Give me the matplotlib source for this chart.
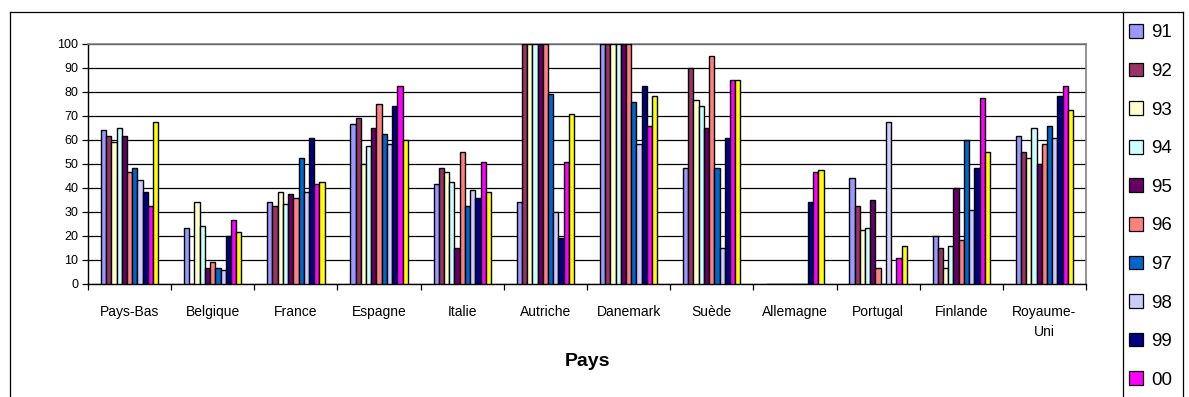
import numpy as np
import matplotlib.pyplot as plt
from matplotlib.patches import Patch
from matplotlib.lines import Line2D

plt.rcParams['font.family'] = ['Liberation Sans', 'DejaVu Sans']

pays = ['Pays-Bas', 'Belgique', 'France', 'Espagne', 'Italie', 'Autriche',
        'Danemark', 'Suède', 'Allemagne', 'Portugal', 'Finlande', 'Royaume-\nUni']
annees = ['91', '92', '93', '94', '95', '96', '97', '98', '99', '00', '01']
couleurs = ['#9999FF', '#993366', '#FFFFCC', '#CCFFFF', '#660066', '#FF8080',
            '#0066CC', '#CCCCFF', '#000080', '#FF00FF', '#FFFF00']

# one list per year, values by country (same order as pays)
v91 = [64.2, 23.2, 34.2, 66.7, 41.7, 34.2, 100, 48.3, 0, 44.2, 20.0, 61.7]
v92 = [61.7, 0, 32.5, 69.2, 48.3, 100, 100, 90.0, 0, 32.5, 15.0, 55.0]
v93 = [59.2, 34.2, 38.2, 50.0, 46.7, 100, 100, 76.7, 0, 22.5, 6.7, 52.5]
v94 = [65.0, 24.2, 33.3, 57.5, 42.5, 100, 100, 74.2, 0, 23.3, 15.8, 65.0]
v95 = [61.7, 6.7, 37.5, 65.0, 15.0, 100, 100, 65.0, 0, 35.0, 40.0, 50.0]
v96 = [46.7, 9.2, 35.8, 75.0, 55.0, 100, 100, 95.0, 0, 6.7, 18.3, 58.3]
v97 = [48.3, 6.7, 52.6, 62.5, 32.5, 79.2, 75.8, 48.3, 0, 0, 60.0, 65.8]
v98 = [43.3, 5.8, 38.2, 58.3, 39.2, 30.0, 58.3, 15.0, 0, 67.5, 30.8, 60.8]
v99 = [38.2, 20.0, 60.8, 74.2, 35.8, 19.2, 82.5, 60.8, 34.2, 0, 48.3, 78.3]
v00 = [32.5, 26.7, 41.7, 82.5, 50.8, 50.8, 65.8, 85.0, 46.7, 10.8, 77.5, 82.5]
v01 = [67.5, 21.7, 42.5, 60.0, 38.3, 70.8, 78.3, 85.0, 47.5, 15.8, 55.0, 72.5]
series = [v91, v92, v93, v94, v95, v96, v97, v98, v99, v00, v01]

fig = plt.figure(figsize=(11.89, 3.97), dpi=100)
ax = fig.add_axes([88/1189, 1 - 284/397, (1086-88)/1189, 240/397])

x = np.arange(len(pays))
w = 0.69 / len(series)
for i, vals in enumerate(series):
    ax.bar(x + (i - (len(series)-1)/2) * w, vals, w, color=couleurs[i],
           edgecolor='black', linewidth=1.0, zorder=3)

ax.set_xlim(-0.5, len(pays) - 0.5)
ax.set_ylim(0, 100)
ax.set_yticks(np.arange(0, 101, 10))
ax.yaxis.grid(True, color='black', linewidth=0.9, zorder=0)
ax.tick_params(axis='y', labelsize=9, length=4, width=0.9, direction='out', pad=3)

ax.set_xticks(x)
ax.set_xticklabels(pays, fontsize=10)
ax.set_xticks(np.arange(-0.5, len(pays)), minor=True)
ax.tick_params(axis='x', which='major', length=0, pad=15)
ax.tick_params(axis='x', which='minor', length=4, width=0.9, direction='out')
for lab in ax.get_xticklabels():
    lab.set_linespacing(1.6)

for s in ['top', 'right']:
    ax.spines[s].set_color('#808080')
    ax.spines[s].set_linewidth(1.2)
for s in ['left', 'bottom']:
    ax.spines[s].set_color('black')
    ax.spines[s].set_linewidth(1.0)
ax.set_axisbelow(True)

ax.set_xlabel('Pays', fontsize=14, fontweight='bold')
ax.xaxis.set_label_coords(0.5, -0.325)
ax.xaxis.label.set_va('center')

# chart frame and legend box
W, H = 1189, 397
def fline(x0, y0, x1, y1):
    fig.add_artist(Line2D([x0/W, x1/W], [1 - y0/H, 1 - y1/H], color='black', linewidth=0.9))
fline(10, 12, 1183, 12)
fline(10, 12, 10, 397)
fline(1123, 12, 1123, 397)
fline(1183, 12, 1183, 397)

handles = [Patch(facecolor=couleurs[i], edgecolor='black', linewidth=0.9) for i in range(10)]
fig.legend(handles, annees[:10], loc='upper left', bbox_to_anchor=(1129/W, 1 - 24/H),
           frameon=False, fontsize=13.5, handlelength=0.75, handleheight=0.75,
           handletextpad=0.45, labelspacing=1.13, borderaxespad=0, borderpad=0)

fig.savefig('out.png', dpi=100)
